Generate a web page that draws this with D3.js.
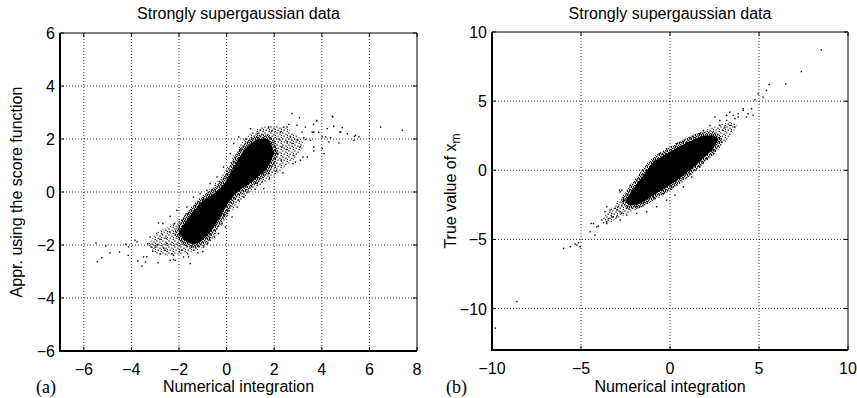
<!DOCTYPE html>
<html>
<head>
<meta charset="utf-8">
<script src="https://cdn.jsdelivr.net/npm/d3@7"></script>
<style>
  body { margin: 0; background: #fff; }
  text { font-family: "Liberation Sans", Arial, Helvetica, sans-serif; fill: #000; }
  .tag { font-family: "Liberation Serif", "Times New Roman", serif; }
</style>
</head>
<body>
<svg id="chart" width="857" height="398"></svg>
<script>
const titleText = "Strongly supergaussian data";
const xLabelText = "Numerical integration";

// panel (a)
const aTicksX = [-6, -4, -2, 0, 2, 4, 6, 8];
const aTicksY = [-6, -4, -2, 0, 2, 4, 6];
// speckled zone envelope
const aBandX  = [-3.3, -3.0, -2.5, -2.0, -1.5, -1.0, -0.5, 0.0, 0.5, 1.0, 1.5, 2.0, 2.5, 3.0, 3.3];
const aBandLo = [-2.0, -2.3, -2.4, -2.35, -2.25, -2.1, -1.65, -0.95, -0.45, 0.0, 0.3, 0.6, 1.0, 1.4, 1.8];
const aBandHi = [-2.0, -1.6, -1.35, -1.05, -0.6, -0.15, 0.3, 0.9, 1.7, 2.2, 2.45, 2.5, 2.4, 2.1, 1.8];
// solid core envelope
const aCoreX  = [-2.0, -1.7, -1.4, -1.0, -0.6, -0.3, 0.0, 0.3, 0.6, 1.0, 1.4, 1.7, 2.0];
const aCoreLo = [-1.55, -1.85, -1.95, -1.8, -1.4, -0.95, -0.5, -0.12, 0.1, 0.35, 0.65, 0.9, 1.5];
const aCoreHi = [-1.55, -1.1, -0.75, -0.35, -0.1, 0.1, 0.42, 0.9, 1.4, 1.8, 2.0, 2.0, 1.5];
// sparse points
const aPtsX = [7.38, 6.47, 4.46, 4.5, 4.79, 5.07, 5.37, 5.56, 4.72, 4.37, 4.01, 3.78, 3.6, 3.66, 3.31, 3.06, 2.75, 2.54, 3.21, 2.79, 2.37, 2.96,
  4.44, 3.78, 3.66, 4.23, 4.86, 4.76, 5.42, 5.35, 4.3, 4.16, 4.02, 4.09, 3.66, 3.52, 3.31, 3.39, 3.1, 2.82, 2.89, 3.1, 3.17, 2.96, 2.61, 2.4, 2.26, 2.68, 2.54, 2.33, 2.75, 2.05, 3.24, 3.66, 3.87,
  -5.49, -5.25, -5.43, -4.9, -4.5, -5.08, -4.24, -4.12, -4.13, -3.73, -3.56, -3.41, -3.76, -3.31, -3.1, -2.88, -2.8, -2.94, -2.68, -2.37, -2.23, -1.64, -2.64, -2.55, -3.85, -3.35, -3.14, -2.86, -2.79, -2.51, -2.23, -2.37, -1.6, -1.88,
  -2.09, -1.88, -1.67, -1.39, -1.11, -0.83, -3.21, -3.0, -2.58, -2.3, -2.16, -1.81, -1.53, -1.39, -0.97, -0.69, -0.34, -0.05, 0.23, 0.44, 0.72, 1.28, 1.56, 1.77, 1.98, 2.12, 0.3, 0.51, 1.0, 1.42, 1.77, 0.16, -0.13, -0.4, -0.69, -3.49,
  -2.0, -2.2, -1.9, -1.2, -1.0, -0.8, -0.5, -0.2, -0.1, 0.1, 0.5, 0.9, 1.2, 1.5, 1.8, 2.1, 2.3, 2.5, 2.2, 1.9, 1.3, 0.8, 0.6, 0.2, -0.3, -0.6, -1.0, -1.3, -1.6, -2.4, -2.7, -2.9];
const aPtsY = [2.33, 2.45, 2.83, 2.48, 2.26, 2.2, 2.1, 2.08, 1.85, 2.05, 2.08, 2.7, 2.26, 1.7, 2.45, 2.8, 2.96, 2.45, 1.32, 1.07, 0.72, 1.97,
  2.86, 2.68, 2.55, 2.39, 2.43, 2.26, 2.14, 1.95, 1.89, 2.08, 1.64, 1.45, 1.55, 1.95, 1.98, 1.32, 1.2, 1.38, 1.13, 1.7, 2.26, 2.52, 2.55, 2.45, 2.26, 2.08, 1.89, 1.7, 1.83, 0.94, 2.05, 2.26, 2.25,
  -1.92, -2.48, -2.63, -2.3, -2.26, -2.04, -1.97, -2.07, -2.39, -2.6, -2.8, -2.64, -1.88, -1.95, -2.24, -2.67, -1.79, -1.56, -1.19, -0.92, -2.55, -2.33, -2.12, -1.74, -1.82, -2.45, -2.08, -1.17, -2.33, -1.95, -2.39, -2.58, -2.45, -1.82,
  -0.69, -1.07, -0.57, -0.19, -0.06, 0.06, -1.7, -2.08, -2.2, -2.33, -2.58, -2.45, -2.7, -2.2, -2.08, -1.82, -1.57, -1.32, -0.94, -0.57, -0.19, 0.32, 0.13, 0.69, 1.07, 1.45, 1.83, 2.08, 2.39, 2.33, 2.45, 1.45, 0.94, 0.57, 0.32, -2.45,
  -1.4, -1.2, -2.2, -2.3, -2.25, -1.95, -1.7, -1.2, -0.9, -0.7, -0.3, 0.0, 0.1, 0.4, 0.5, 0.8, 1.2, 1.6, 2.0, 2.3, 2.2, 2.0, 1.6, 1.1, 0.4, 0.1, -0.3, -0.5, -0.8, -1.5, -1.6, -2.0];

// panel (b)
const bTicksX = [-10, -5, 0, 5, 10];
const bTicksY = [-10, -5, 0, 5, 10];
const bBandX  = [-3.8, -3.4, -3.0, -2.5, -2.0, -1.5, -1.0, 0.0, 1.0, 2.0, 2.6, 3.0, 3.5, 3.8];
const bBandLo = [-3.5, -3.8, -3.5, -3.2, -2.9, -2.6, -2.25, -1.5, -0.5, 0.6, 1.3, 1.9, 2.7, 3.3];
const bBandHi = [-3.5, -2.9, -2.3, -1.6, -0.9, -0.2, 0.7, 1.6, 2.4, 2.9, 3.2, 3.4, 3.5, 3.3];
const bCoreX  = [-2.5, -2.2, -1.8, -1.5, -1.0, -0.5, 0.0, 0.5, 1.0, 1.5, 2.0, 2.4, 2.7];
const bCoreLo = [-2.2, -2.5, -2.45, -2.25, -1.85, -1.45, -1.05, -0.6, -0.1, 0.45, 1.05, 1.55, 2.2];
const bCoreHi = [-2.2, -1.6, -0.9, -0.4, 0.45, 0.95, 1.3, 1.7, 2.0, 2.3, 2.5, 2.5, 2.2];
const bPtsX = [8.5, 7.38, 6.5, 5.57, 5.42, 5.23, 4.95, 4.77, 4.58, 4.67, 4.39, 4.11, 3.83, 3.55, 3.36, 3.64, 3.18, 2.99, 2.52, 2.8, 2.58, 2.3,
  -9.81, -8.6, -5.98, -5.6, -5.23, -5.05, -4.43, -4.21, -4.49, -4.11, -3.83, -3.55, -3.27, -2.99, -2.8, -2.71,
  4.11, 3.83, 4.3, 3.65, 3.18, 2.8, 3.08, 3.37, 2.24, 1.87, 2.62, 2.9, 2.43, 2.06, 1.68, 1.22, 0.75, 0.28, -0.19, -0.75, -1.31, -1.87, -2.43, -2.8, -3.18, -3.55, -3.37, -2.9, -2.71, -2.24, -1.87, -1.31, -0.84, -0.56, -0.19, 0.37, 0.75, 1.31, 1.68,
  -5.33, -5.14, -4.3, -4.02, -3.74, -3.46, -3.27, -2.99, -3.08, -2.8, -2.71, -2.43, -2.24, -2.84, -1.87, -1.5, -0.93, -0.37, -1.96, -2.15, -2.62, -3.65, -3.55];
const bPtsY = [8.7, 7.14, 6.25, 6.2, 5.77, 5.29, 5.53, 5.1, 4.45, 3.97, 4.09, 4.33, 3.85, 3.97, 4.2, 3.13, 3.6, 2.88, 3.85, 3.25, 2.16, 1.68,
  -11.42, -9.5, -5.65, -5.53, -5.41, -5.53, -3.85, -4.69, -4.45, -4.09, -3.6, -3.85, -3.37, -2.88, -1.56, -3.13,
  4.45, 4.09, 3.85, 3.73, 3.97, 3.6, 3.12, 3.24, 3.24, 2.88, 2.4, 2.04, 1.44, 0.84, 0.24, -0.48, -1.2, -1.8, -2.16, -2.64, -3.0, -3.12, -3.24, -3.6, -3.37, -3.73, -2.88, -2.64, -1.44, -1.08, -0.72, 0.0, 0.72, 1.2, 1.56, 1.92, 2.04, 2.4, 2.64,
  -5.34, -5.24, -3.85, -4.04, -3.8, -3.49, -3.13, -3.37, -2.76, -3.0, -2.52, -2.76, -2.28, -1.44, -2.64, -2.4, -1.92, -1.68, -1.44, -1.92, -2.16, -3.0, -2.64];

const svg = d3.select("#chart");
svg.append("rect").attr("width", 857).attr("height", 398).attr("fill", "#fff");

// speckle textures for the dense scatter zones
const defs = svg.append("defs");
const sparse = defs.append("pattern").attr("id", "sparse")
  .attr("width", 6).attr("height", 6).attr("patternUnits", "userSpaceOnUse");
[[0.3, 0.4], [3.4, 1.6], [1.6, 3.6], [4.6, 4.9], [5.0, 2.9]].forEach(([px, py]) =>
  sparse.append("rect").attr("x", px).attr("y", py).attr("width", 1.2).attr("height", 1.2).attr("fill", "#000"));
const dense = defs.append("pattern").attr("id", "dense")
  .attr("width", 4).attr("height", 4).attr("patternUnits", "userSpaceOnUse");
[[0, 0], [2, 0.9], [0.9, 2.2], [2.9, 3.0], [3.1, 1.9]].forEach(([px, py]) =>
  dense.append("rect").attr("x", px).attr("y", py).attr("width", 1.3).attr("height", 1.3).attr("fill", "#000"));

function drawPanel(p) {
  const x = d3.scaleLinear().domain(p.xDomain).range([p.left, p.right]);
  const y = d3.scaleLinear().domain(p.yDomain).range([p.bottom, p.top]);
  const g = svg.append("g");

  g.append("clipPath").attr("id", p.id + "clip")
    .append("rect")
    .attr("x", p.left).attr("y", p.top)
    .attr("width", p.right - p.left).attr("height", p.bottom - p.top);

  // grid
  const grid = g.append("g")
    .attr("stroke", "#000").attr("stroke-width", 0.8).attr("stroke-dasharray", "1,2");
  grid.selectAll(".gx").data(p.ticksX.filter(v => v > p.xDomain[0] && v < p.xDomain[1]))
    .enter().append("line")
    .attr("x1", d => x(d)).attr("x2", d => x(d))
    .attr("y1", p.top).attr("y2", p.bottom);
  grid.selectAll(".gy").data(p.ticksY.filter(v => v > p.yDomain[0] && v < p.yDomain[1]))
    .enter().append("line")
    .attr("y1", d => y(d)).attr("y2", d => y(d))
    .attr("x1", p.left).attr("x2", p.right);

  const plot = g.append("g").attr("clip-path", "url(#" + p.id + "clip)");

  const band = p.bandX.map((v, i) => ({ x: v, lo: p.bandLo[i], hi: p.bandHi[i] }));
  const core = p.coreX.map((v, i) => ({ x: v, lo: p.coreLo[i], hi: p.coreHi[i] }));
  const area = d3.area().curve(d3.curveMonotoneX)
    .x(d => x(d.x)).y0(d => y(d.lo)).y1(d => y(d.hi));

  plot.append("path").datum(band).attr("d", area).attr("fill", "url(#sparse)");
  plot.append("path").datum(core).attr("d", area)
    .attr("fill", "#000").attr("stroke", "url(#dense)").attr("stroke-width", 9)
    .attr("stroke-linejoin", "round");
  plot.append("path").datum(core).attr("d", area).attr("fill", "#000");

  const pts = p.ptsX.map((v, i) => ({ x: v, y: p.ptsY[i] }));
  plot.selectAll(".pt").data(pts).enter().append("rect")
    .attr("x", d => x(d.x) - 0.7).attr("y", d => y(d.y) - 0.7)
    .attr("width", 1.4).attr("height", 1.4)
    .attr("fill", "#000");

  // inward ticks
  const ticks = g.append("g").attr("stroke", "#000").attr("stroke-width", 1);
  p.ticksX.forEach(v => {
    ticks.append("line").attr("x1", x(v)).attr("x2", x(v)).attr("y1", p.bottom).attr("y2", p.bottom - 4);
    ticks.append("line").attr("x1", x(v)).attr("x2", x(v)).attr("y1", p.top).attr("y2", p.top + 4);
  });
  p.ticksY.forEach(v => {
    ticks.append("line").attr("y1", y(v)).attr("y2", y(v)).attr("x1", p.left).attr("x2", p.left + 4);
    ticks.append("line").attr("y1", y(v)).attr("y2", y(v)).attr("x1", p.right).attr("x2", p.right - 4);
  });

  // box: thin top/right, heavier left/bottom
  g.append("path")
    .attr("d", `M${p.left},${p.top}H${p.right}V${p.bottom}`)
    .attr("fill", "none").attr("stroke", "#000").attr("stroke-width", 1);
  g.append("path")
    .attr("d", `M${p.left},${p.top}V${p.bottom}H${p.right}`)
    .attr("fill", "none").attr("stroke", "#000").attr("stroke-width", 2);

  const fmt = d => d < 0 ? "\u2212" + Math.abs(d) : String(d);

  g.selectAll(".tx").data(p.ticksX).enter().append("text")
    .attr("x", d => x(d)).attr("y", p.bottom + 24)
    .attr("text-anchor", "middle").attr("font-size", 16)
    .text(fmt);
  g.selectAll(".ty").data(p.ticksY).enter().append("text")
    .attr("x", p.left - 5).attr("y", d => y(d) + 6)
    .attr("text-anchor", "end").attr("font-size", 16)
    .text(fmt);

  g.append("text").attr("x", (p.left + p.right) / 2).attr("y", 19)
    .attr("text-anchor", "middle").attr("font-size", 16).text(titleText);
  g.append("text").attr("x", (p.left + p.right) / 2).attr("y", 392)
    .attr("text-anchor", "middle").attr("font-size", 16).text(xLabelText);

  const yl = g.append("text")
    .attr("transform", `translate(${p.yLabelX},${(p.top + p.bottom) / 2}) rotate(-90)`)
    .attr("text-anchor", "middle").attr("font-size", 16);
  yl.append("tspan").text(p.yLabel);
  if (p.yLabelSub) {
    yl.append("tspan").attr("dy", 4).attr("font-size", 12).text(p.yLabelSub);
  }

  g.append("text").attr("class", "tag")
    .attr("x", p.tagX).attr("y", 393).attr("font-size", 18).text(p.tag);
}

drawPanel({
  id: "a", left: 60, right: 417, top: 33, bottom: 351,
  xDomain: [-7, 8], yDomain: [-6, 6],
  ticksX: aTicksX, ticksY: aTicksY,
  bandX: aBandX, bandLo: aBandLo, bandHi: aBandHi,
  coreX: aCoreX, coreLo: aCoreLo, coreHi: aCoreHi,
  ptsX: aPtsX, ptsY: aPtsY,
  yLabel: "Appr. using the score function", yLabelX: 22,
  tag: "(a)", tagX: 36
});

drawPanel({
  id: "b", left: 492, right: 848, top: 32, bottom: 350,
  xDomain: [-10, 10], yDomain: [-13, 10],
  ticksX: bTicksX, ticksY: bTicksY,
  bandX: bBandX, bandLo: bBandLo, bandHi: bBandHi,
  coreX: bCoreX, coreLo: bCoreLo, coreHi: bCoreHi,
  ptsX: bPtsX, ptsY: bPtsY,
  yLabel: "True value of x", yLabelSub: "m", yLabelX: 456,
  tag: "(b)", tagX: 446
});
</script>
</body>
</html>
